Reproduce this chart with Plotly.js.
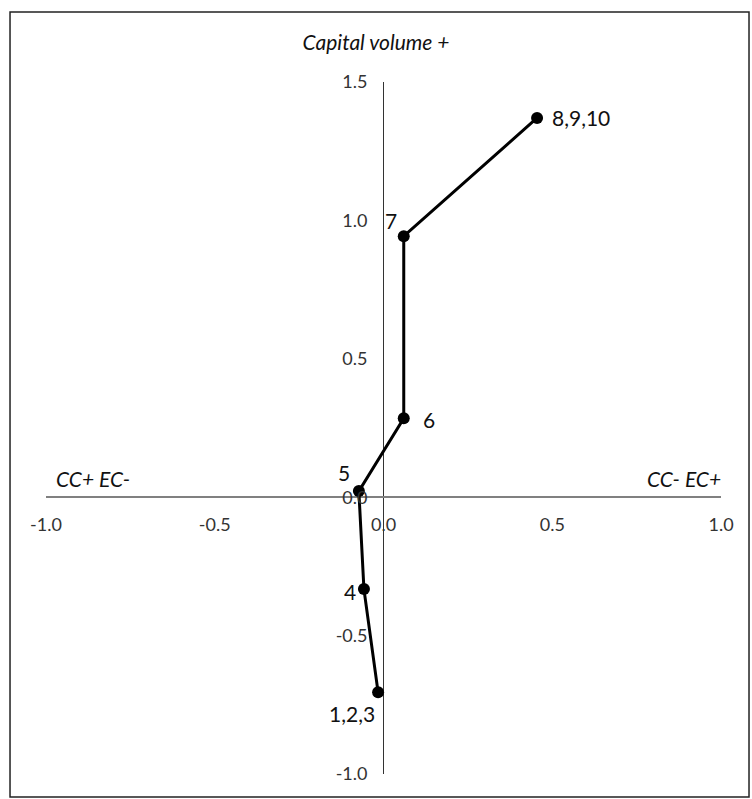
<!DOCTYPE html>
<html>
<head>
<meta charset="utf-8">
<script src="https://cdn.plot.ly/plotly-3.0.1.min.js"></script>
<style>html,body{margin:0;padding:0;background:#fff;}#chart{width:752px;height:799px;}</style>
</head>
<body>
<div id="chart"></div>
<script>
// Data
const xValues = [-0.016, -0.058, -0.073, 0.06, 0.06, 0.455];
const yValues = [-0.705, -0.332, 0.022, 0.285, 0.943, 1.37];
const pointLabels = ['1,2,3', '4', '5', '6', '7', '8,9,10'];
const xTickVals = [-1.0, -0.5, 0.0, 0.5, 1.0];
const xTickText = ['-1.0', '-0.5', '0.0', '0.5', '1.0'];
const yTickVals = [-1.0, -0.5, 0.0, 0.5, 1.0, 1.5];
const yTickText = ['-1.0', '-0.5', '0.0', '0.5', '1.0', '1.5'];
const titleText = 'Capital volume +';
const leftLabel = 'CC+ EC-';
const rightLabel = 'CC- EC+';

// Label placement (styling, pixel offsets from each point)
const labelStyle = [
  {xanchor: 'center', xshift: -26, yshift: -21},
  {xanchor: 'center', xshift: -14, yshift: -2},
  {xanchor: 'center', xshift: -15, yshift: 19},
  {xanchor: 'center', xshift: 25, yshift: -1},
  {xanchor: 'center', xshift: -13, yshift: 16},
  {xanchor: 'left', xshift: 13, yshift: 0}
];
const FONT = 'Lato, "Open Sans", sans-serif';

const trace = {
  x: xValues, y: yValues,
  type: 'scatter', mode: 'lines+markers',
  line: {color: '#000', width: 3},
  marker: {color: '#000', size: 12},
  cliponaxis: false, hoverinfo: 'none'
};

const pointAnnotations = pointLabels.map((t, i) => Object.assign({
  text: t, xref: 'x', yref: 'y', x: xValues[i], y: yValues[i], showarrow: false,
  yanchor: 'middle', font: {family: FONT, size: 21, color: '#111'}
}, labelStyle[i]));

const layout = {
  width: 752, height: 799,
  margin: {l: 46, r: 31, t: 82, b: 25},
  paper_bgcolor: '#fff', plot_bgcolor: '#fff',
  showlegend: false,
  title: {text: titleText, font: {family: FONT, size: 21, color: '#111', style: 'italic'}, x: 0.5, xanchor: 'center', y: 0.947, yanchor: 'middle'},
  xaxis: {
    range: [-1, 1], anchor: 'free', position: 0.4,
    tickvals: xTickVals, ticktext: xTickText,
    showgrid: false, showline: false, ticks: '',
    zeroline: true, zerolinecolor: '#333', zerolinewidth: 1,
    tickfont: {family: FONT, size: 18, color: '#333'},
    ticklabelstandoff: 15, fixedrange: true
  },
  yaxis: {
    range: [-1, 1.5], anchor: 'free', position: 0.5,
    tickvals: yTickVals, ticktext: yTickText,
    showgrid: false, showline: false, ticks: '',
    zeroline: true, zerolinecolor: '#808080', zerolinewidth: 2.5,
    tickfont: {family: FONT, size: 18, color: '#333'},
    ticklabelstandoff: 16, fixedrange: true
  },
  annotations: [
    {text: leftLabel, xref: 'x', yref: 'y', x: -0.86, y: 0.068, showarrow: false,
     font: {family: FONT, size: 21, color: '#111', style: 'italic'}},
    {text: rightLabel, xref: 'x', yref: 'y', x: 0.89, y: 0.068, showarrow: false,
     font: {family: FONT, size: 21, color: '#111', style: 'italic'}}
  ].concat(pointAnnotations),
  shapes: [
    {type: 'rect', xref: 'paper', yref: 'paper', x0: -0.0533, x1: 1.0415, y0: -0.0332, y1: 1.101,
     line: {color: '#222', width: 1.5}, fillcolor: 'rgba(0,0,0,0)', layer: 'below'}
  ]
};

Plotly.newPlot('chart', [trace], layout, {staticPlot: true, displayModeBar: false});
</script>
</body>
</html>
